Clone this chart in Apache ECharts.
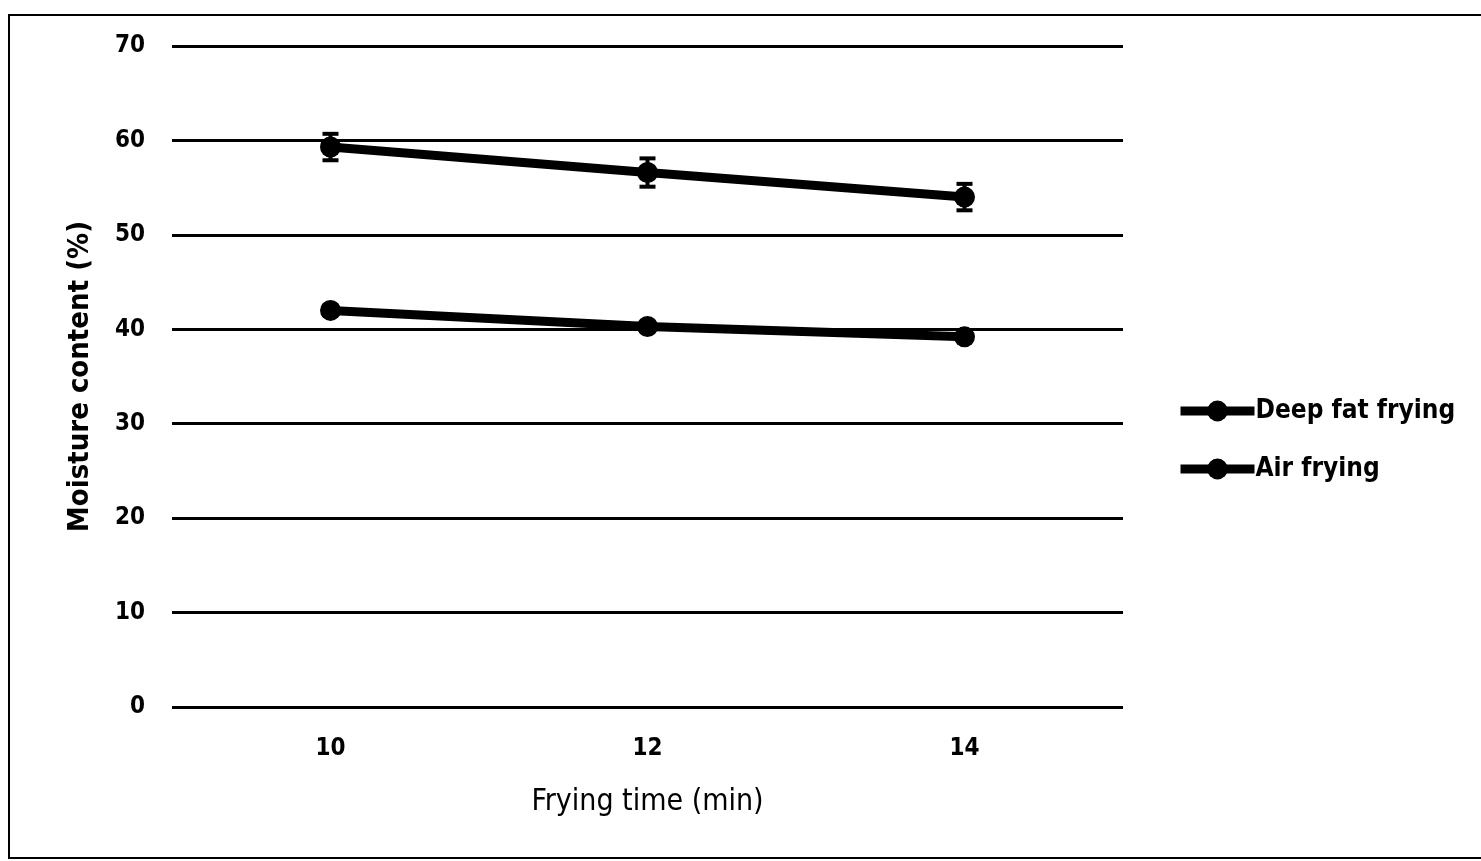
<!DOCTYPE html>
<html><head><meta charset="utf-8">
<script src="https://cdn.jsdelivr.net/npm/echarts@6/dist/echarts.min.js"></script>
<style>html,body{margin:0;padding:0;background:#fff}#c{width:1481px;height:861px}</style>
</head><body><div id="c"></div>
<script>
const categories = ['10', '12', '14'];
const deepFat = [59.3, 56.6, 54.0];
const deepFatErr = [1.4, 1.5, 1.4];
const airFrying = [42.0, 40.3, 39.2];
const airFryingErr = [0.5, 0.4, 0.4];
const yTicks = [0, 10, 20, 30, 40, 50, 60, 70];

const FONT = '"DejaVu Sans Condensed","Liberation Sans Narrow","Noto Sans",sans-serif';
const chart = echarts.init(document.getElementById('c'));

function errSeries(vals, errs) {
  return {
    type: 'custom', silent: true, z: 5,
    data: vals.map((v, i) => [i, v - errs[i], v + errs[i]]),
    renderItem: function (params, api) {
      const lo = api.coord([api.value(0), api.value(1)]);
      const hi = api.coord([api.value(0), api.value(2)]);
      const w = 8;
      const st = { stroke: '#000', lineWidth: 4 };
      return { type: 'group', children: [
        { type: 'line', shape: { x1: lo[0], y1: lo[1], x2: hi[0], y2: hi[1] }, style: st },
        { type: 'line', shape: { x1: lo[0] - w, y1: lo[1], x2: lo[0] + w, y2: lo[1] }, style: st },
        { type: 'line', shape: { x1: hi[0] - w, y1: hi[1], x2: hi[0] + w, y2: hi[1] }, style: st }
      ]};
    }
  };
}

chart.setOption({
  animation: false,
  backgroundColor: '#fff',
  graphic: [{
    type: 'rect', shape: { x: 9, y: 15, width: 1500, height: 843 },
    style: { fill: 'none', stroke: '#000', lineWidth: 2 }, z: -1
  }],
  grid: { left: 172, right: 358, top: 46, bottom: 154 },
  legend: {
    orient: 'vertical', left: 1171, top: 393, itemGap: 32,
    itemWidth: 74, itemHeight: 26,
    lineStyle: { width: 9, color: '#000' },
    itemStyle: { color: '#000' },
    textStyle: { fontFamily: FONT, fontSize: 26, fontWeight: 'bold', color: '#000', padding: [0, 0, 0, -4] },
    data: ['Deep fat frying', 'Air frying']
  },
  xAxis: {
    type: 'category', data: categories, boundaryGap: true,
    axisLine: { show: false }, axisTick: { show: false },
    axisLabel: { fontFamily: FONT, fontSize: 24, fontWeight: 'bold', color: '#000', margin: 30 },
    name: 'Frying time (min)', nameLocation: 'middle', nameGap: 80,
    nameTextStyle: { fontFamily: FONT, fontSize: 30, color: '#000' }
  },
  yAxis: {
    type: 'value', min: 0, max: 70, interval: 10,
    axisLine: { show: false }, axisTick: { show: false },
    axisLabel: { fontFamily: FONT, fontSize: 24, fontWeight: 'bold', color: '#000', margin: 27,
      formatter: v => yTicks.includes(v) ? String(v) : '' },
    splitLine: { lineStyle: { color: '#000', width: 3 } },
    name: 'Moisture content (%)', nameLocation: 'middle', nameGap: 77,
    nameTextStyle: { fontFamily: FONT, fontSize: 29, fontWeight: 'bold', color: '#000' }
  },
  series: [
    { name: 'Deep fat frying', type: 'line', data: deepFat, symbol: 'circle', symbolSize: 21,
      lineStyle: { color: '#000', width: 9 }, itemStyle: { color: '#000' }, z: 4 },
    { name: 'Air frying', type: 'line', data: airFrying, symbol: 'circle', symbolSize: 21,
      lineStyle: { color: '#000', width: 9 }, itemStyle: { color: '#000' }, z: 4 },
    errSeries(deepFat, deepFatErr),
    errSeries(airFrying, airFryingErr)
  ]
});
</script></body></html>
